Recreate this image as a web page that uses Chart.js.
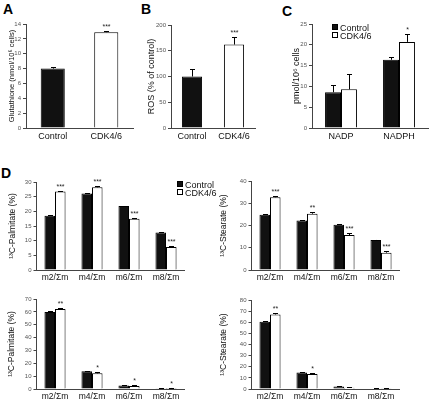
<!DOCTYPE html>
<html>
<head>
<meta charset="utf-8">
<script src="https://cdn.jsdelivr.net/npm/chart.js@4.4.1/dist/chart.umd.min.js"></script>
<style>
  body { margin: 0; background: #fff; width: 435px; height: 405px; position: relative; overflow: hidden;
         font-family: 'Liberation Sans', Arial, sans-serif; }
  canvas { position: absolute; }
  .letter { position: absolute; font-weight: bold; font-size: 14px; line-height: 1; color: #000; }
  .legend { position: absolute; font-size: 9px; line-height: 8px; color: #111; }
  .legend span.box { display: inline-block; width: 4px; height: 4px; border: 1px solid #000; margin-right: 2px; vertical-align: 1px; }
</style>
</head>
<body>
<div class="letter" style="left:3px;top:2px">A</div>
<div class="letter" style="left:141px;top:2px">B</div>
<div class="letter" style="left:282px;top:4px">C</div>
<div class="letter" style="left:1px;top:166px">D</div>

<canvas id="chartA" width="140" height="135" style="left:0;top:14px"></canvas>
<canvas id="chartB" width="120" height="135" style="left:140px;top:14px"></canvas>
<canvas id="chartC" width="155" height="135" style="left:280px;top:14px"></canvas>
<canvas id="chartD1" width="200" height="120" style="left:0;top:165px"></canvas>
<canvas id="chartD2" width="220" height="120" style="left:215px;top:165px"></canvas>
<canvas id="chartD3" width="200" height="125" style="left:0;top:280px"></canvas>
<canvas id="chartD4" width="220" height="125" style="left:215px;top:280px"></canvas>

<div class="legend" id="legendC" style="left:332px;top:24px"></div>
<div class="legend" id="legendD" style="left:177px;top:181px"></div>

<script>
// ---- data ----
const groups = ['Control', 'CDK4/6'];
const groupColors = ['#111', '#fff'];

// A: glutathione
const glutathione = [8.0, 12.9];
const glutathioneErr = [0.15, 0.15];
const glutathioneStars = ['', '***'];
const glutathioneTicks = [0, 2, 4, 6, 8, 10, 12, 14];

// B: ROS
const ros = [100, 162];
const rosErr = [14, 15];
const rosStars = ['', '***'];
const rosTicks = [0, 50, 100, 150, 200];

// C: NADP / NADPH
const cofactors = ['NADP', 'NADPH'];
const cofactorControl = [8.6, 16.4];
const cofactorControlErr = [1.7, 0.6];
const cofactorCdk = [9.3, 20.7];
const cofactorCdkErr = [3.8, 1.9];
const cofactorStars = ['', '*'];
const cofactorTicks = [0, 5, 10, 15, 20, 25];

// D: isotopologue fractions
const isotopologues = ['m2/Σm', 'm4/Σm', 'm6/Σm', 'm8/Σm'];

const palmTopControl = [18.5, 26.1, 21.8, 12.8];
const palmTopControlErr = [0.3, 0.1, 0.1, 0.3];
const palmTopCdk = [26.8, 28.2, 17.5, 7.8];
const palmTopCdkErr = [0.3, 0.3, 0.3, 0.3];
const palmTopStars = ['***', '***', '***', '***'];
const palmTopTicks = [0, 5, 10, 15, 20, 25, 30];

const stearTopControl = [24.8, 22.3, 20.3, 13.5];
const stearTopControlErr = [0.5, 0.1, 0.4, 0.1];
const stearTopCdk = [32.7, 25.3, 15.7, 7.8];
const stearTopCdkErr = [0.6, 0.6, 0.8, 0.6];
const stearTopStars = ['***', '**', '***', '***'];
const stearTopTicks = [0, 10, 20, 30, 40];

const palmBotControl = [59.8, 13.8, 2.8, 0.5];
const palmBotControlErr = [0.6, 0.3, 0.1, 0.1];
const palmBotCdk = [62.3, 12.2, 2.3, 0.8];
const palmBotCdkErr = [0.5, 0.8, 0.6, 0.3];
const palmBotStars = ['**', '*', '*', '*'];
const palmBotTicks = [0, 10, 20, 30, 40, 50, 60, 70];

const stearBotControl = [60.5, 14.8, 2.3, 0.5];
const stearBotControlErr = [0.7, 0.2, 0.4, 0.1];
const stearBotCdk = [67.0, 13.5, 1.2, 0.6];
const stearBotCdkErr = [1.5, 0.8, 0.6, 0.3];
const stearBotStars = ['**', '*', '', ''];
const stearBotTicks = [0, 10, 20, 30, 40, 50, 60, 70, 80];

const family = "'Liberation Sans', Arial, sans-serif";

// upper error bar + significance stars, placed through the y scale
const errorBars = {
  id: 'errorBars',
  afterDatasetsDraw(chart) {
    const ctx = chart.ctx;
    const y = chart.scales.y;
    chart.data.datasets.forEach((ds, di) => {
      chart.getDatasetMeta(di).data.forEach((bar, i) => {
        const err = ds.errors ? ds.errors[i] : 0;
        const top = Math.round(y.getPixelForValue(ds.data[i] + err)) + 0.5;
        const x = Math.round(bar.x) + 0.5;
        ctx.save();
        ctx.strokeStyle = '#000';
        ctx.lineWidth = 1;
        if (err > 0) {
          ctx.beginPath();
          ctx.moveTo(x, bar.y);
          ctx.lineTo(x, top);
          ctx.moveTo(x - 2.5, top);
          ctx.lineTo(x + 2.5, top);
          ctx.stroke();
        }
        if (ds.stars && ds.stars[i]) {
          ctx.fillStyle = '#222';
          ctx.font = '7px ' + family;
          ctx.textAlign = 'center';
          ctx.textBaseline = 'bottom';
          ctx.fillText(ds.stars[i], x, top - 1);
        }
        ctx.restore();
      });
    });
  }
};

function panelOptions(p) {
  return {
    responsive: false,
    animation: false,
    events: [],
    layout: { padding: { top: p.top, right: p.right, left: 0, bottom: 0 } },
    plugins: { legend: { display: false }, tooltip: { enabled: false } },
    scales: {
      x: {
        grid: { display: false, drawTicks: false },
        border: { color: '#444' },
        ticks: { color: '#111', font: { family, size: p.xFont }, padding: 3, maxRotation: 0, autoSkip: false },
        afterFit: s => { s.height = p.xHeight; }
      },
      y: {
        min: 0,
        max: p.ticks[p.ticks.length - 1],
        afterBuildTicks: s => { s.ticks = p.ticks.map(v => ({ value: v })); },
        grid: { drawOnChartArea: false, tickLength: 3, color: '#444' },
        border: { color: '#444' },
        ticks: { color: '#555', font: { family, size: 6 }, padding: 2 },
        title: { display: true, text: p.title, color: '#111', font: { family, size: p.titleFont }, padding: { top: p.titlePad, bottom: 0 } },
        afterFit: s => { s.width = p.yWidth; }
      }
    }
  };
}

function singleBars(id, values, errors, stars, ticks, title, p) {
  new Chart(document.getElementById(id), {
    type: 'bar',
    data: {
      labels: groups,
      datasets: [{
        data: values, errors, stars,
        backgroundColor: groupColors, borderColor: '#000', borderWidth: 1,
        barPercentage: p.bar, categoryPercentage: 1
      }]
    },
    options: panelOptions(Object.assign({ ticks, title }, p)),
    plugins: [errorBars]
  });
}

function pairedBars(id, labels, control, controlErr, cdk, cdkErr, stars, ticks, title, p) {
  new Chart(document.getElementById(id), {
    type: 'bar',
    data: {
      labels,
      datasets: [
        { label: groups[0], data: control, errors: controlErr,
          backgroundColor: groupColors[0], borderColor: '#000', borderWidth: 1,
          barPercentage: 1, categoryPercentage: p.cat },
        { label: groups[1], data: cdk, errors: cdkErr, stars,
          backgroundColor: groupColors[1], borderColor: '#000', borderWidth: 1,
          barPercentage: 1, categoryPercentage: p.cat }
      ]
    },
    options: panelOptions(Object.assign({ ticks, title }, p)),
    plugins: [errorBars]
  });
}

// A
singleBars('chartA', glutathione, glutathioneErr, glutathioneStars, glutathioneTicks,
  'Glutathione (nmol/10⁶ cells)',
  { top: 10, right: 7, yWidth: 26, xHeight: 21, titlePad: 7, titleFont: 7.5, xFont: 9, bar: 0.45 });
// B
singleBars('chartB', ros, rosErr, rosStars, rosTicks,
  'ROS (% of control)',
  { top: 11, right: 5, yWidth: 31, xHeight: 21, titlePad: 6.6, titleFont: 9, xFont: 9, bar: 0.48 });
// C
pairedBars('chartC', cofactors, cofactorControl, cofactorControlErr, cofactorCdk, cofactorCdkErr,
  cofactorStars, cofactorTicks, 'pmol/10⁶ cells',
  { top: 10, right: 7, yWidth: 32, xHeight: 21, titlePad: 11.6, titleFont: 9, xFont: 9, cat: 0.55 });
// D
pairedBars('chartD1', isotopologues, palmTopControl, palmTopControlErr, palmTopCdk, palmTopCdkErr,
  palmTopStars, palmTopTicks, '¹³C-Palmitate (%)',
  { top: 17, right: 15.5, yWidth: 36.5, xHeight: 15, titlePad: 7.6, titleFont: 8.5, xFont: 8.5, cat: 0.57 });
pairedBars('chartD2', isotopologues, stearTopControl, stearTopControlErr, stearTopCdk, stearTopCdkErr,
  stearTopStars, stearTopTicks, '¹³C-Stearate (%)',
  { top: 16, right: 35.5, yWidth: 36.5, xHeight: 15, titlePad: 3.6, titleFont: 8.5, xFont: 8.5, cat: 0.57 });
pairedBars('chartD3', isotopologues, palmBotControl, palmBotControlErr, palmBotCdk, palmBotCdkErr,
  palmBotStars, palmBotTicks, '¹³C-Palmitate (%)',
  { top: 19, right: 15.5, yWidth: 36.5, xHeight: 16, titlePad: 6.6, titleFont: 8.5, xFont: 8.5, cat: 0.57 });
pairedBars('chartD4', isotopologues, stearBotControl, stearBotControlErr, stearBotCdk, stearBotCdkErr,
  stearBotStars, stearBotTicks, '¹³C-Stearate (%)',
  { top: 20, right: 35.5, yWidth: 36.5, xHeight: 16, titlePad: 3.6, titleFont: 8.5, xFont: 8.5, cat: 0.57 });

// HTML legends built from the group names
function fillLegend(id) {
  document.getElementById(id).innerHTML = groups.map((g, i) =>
    '<div><span class="box" style="background:' + groupColors[i] + '"></span>' + g + '</div>').join('');
}
fillLegend('legendC');
fillLegend('legendD');
</script>
</body>
</html>
